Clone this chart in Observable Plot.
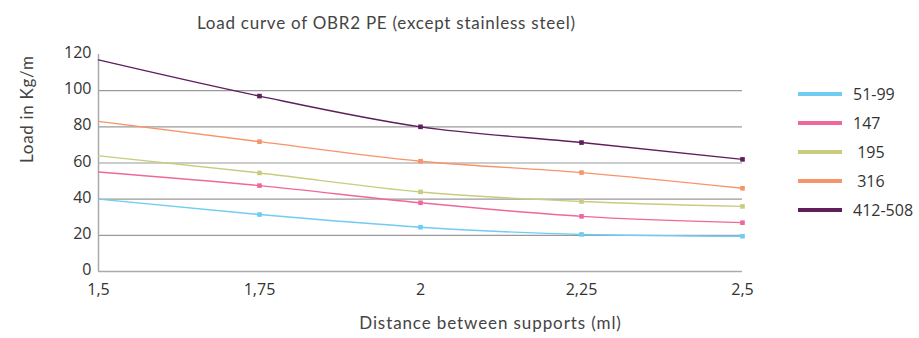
<!DOCTYPE html>
<html>
<head>
<meta charset="utf-8">
<script src="https://cdn.jsdelivr.net/npm/d3@7"></script>
<script src="https://cdn.jsdelivr.net/npm/@observablehq/plot@0.6"></script>
<style>
  html, body { margin: 0; padding: 0; background: #fff; }
  #wrap { position: relative; width: 919px; height: 338px; font-family: Lato, "Open Sans", sans-serif; }
  #title { height: 40px; line-height: 46px; padding-left: 197px; font-size: 17px; letter-spacing: 0.75px; color: #444; }
  #legend { position: absolute; left: 798px; top: 79px; }
  .row { display: flex; align-items: center; height: 29.2px; font-size: 16px; color: #333; font-family: "Open Sans", sans-serif; }
  .sw { width: 44px; height: 4px; margin-right: 11px; }
</style>
</head>
<body>
<div id="wrap">
  <div id="title">Load curve of OBR2 PE (except stainless steel)</div>
  <div id="chart"></div>
  <div id="legend"></div>
</div>
<script>
const distances = [1.5, 1.75, 2, 2.25, 2.5];
const xTickLabels = ["1,5", "1,75", "2", "2,25", "2,5"];
const yTicks = [0, 20, 40, 60, 80, 100, 120];
const seriesNames = ["51-99", "147", "195", "316", "412-508"];
const legendLabels = ["51-99", "147", " 195", " 316", "412-508"];
const seriesColors = ["#6fcdf1", "#f0679d", "#c9cc7f", "#f79469", "#5e1f5b"];
const load_51_99 = [40, 31.5, 24.5, 20.5, 19.5];
const load_147 = [55, 47.5, 38, 30.5, 27];
const load_195 = [64, 54.5, 44, 38.7, 36];
const load_316 = [83, 71.8, 61, 54.7, 46];
const load_412_508 = [117, 97, 80, 71.3, 62];
const seriesValues = [load_51_99, load_147, load_195, load_316, load_412_508];

const rows = [];
seriesNames.forEach((s, k) => distances.forEach((d, i) => rows.push({series: s, x: d, y: seriesValues[k][i], idx: i})));

const chart = Plot.plot({
  width: 919,
  height: 298,
  marginTop: 14,
  marginBottom: 67,
  marginLeft: 98,
  marginRight: 177,
  style: {fontFamily: "'Open Sans', sans-serif", fontSize: "16px", color: "#333", background: "transparent"},
  x: {domain: [1.5, 2.5]},
  y: {domain: [0, 120]},
  color: {domain: seriesNames, range: seriesColors},
  marks: [
    Plot.ruleY([20, 40, 60, 80, 100], {stroke: "#9a9a9a", strokeWidth: 1.2}),
    Plot.ruleY([0], {stroke: "#aaa", strokeWidth: 1.5}),
    Plot.ruleX([1.5], {y1: 0, y2: 120, stroke: "#aaa", strokeWidth: 1.5}),
    Plot.axisX({ticks: distances, tickFormat: (d, i) => xTickLabels[i], tickSize: 0, tickPadding: 12, label: null, fontSize: 16}),
    Plot.axisY({ticks: yTicks, tickSize: 0, tickPadding: 7, dy: -1.5, label: null, fontSize: 16}),
    Plot.line(rows, {x: "x", y: "y", stroke: "series", z: "series", curve: "monotone-x", strokeWidth: 1.4}),
    Plot.dot(rows.filter(r => r.idx > 0), {x: "x", y: "y", fill: "series", symbol: "square", r: 2.6}),
    Plot.text(["Load in Kg/m"], {frameAnchor: "left", rotate: -90, dx: -71, fontSize: 17, fill: "#444", fontFamily: "Lato, sans-serif"}),
    Plot.text(["Distance between supports (ml)"], {frameAnchor: "bottom", dx: 70, dy: 57, fontSize: 17, fill: "#444", fontFamily: "Lato, sans-serif"})
  ]
});
chart.querySelectorAll("text").forEach(t => {
  if (t.textContent === "Distance between supports (ml)") t.style.letterSpacing = "0.9px";
  if (t.textContent === "Load in Kg/m") t.style.letterSpacing = "0.7px";
});
document.getElementById("chart").appendChild(chart);

const legend = document.getElementById("legend");
seriesNames.forEach((s, k) => {
  const row = document.createElement("div");
  row.className = "row";
  row.innerHTML = `<div class="sw" style="background:${seriesColors[k]}"></div><span style="white-space:pre">${legendLabels[k]}</span>`;
  legend.appendChild(row);
});
</script>
</body>
</html>
